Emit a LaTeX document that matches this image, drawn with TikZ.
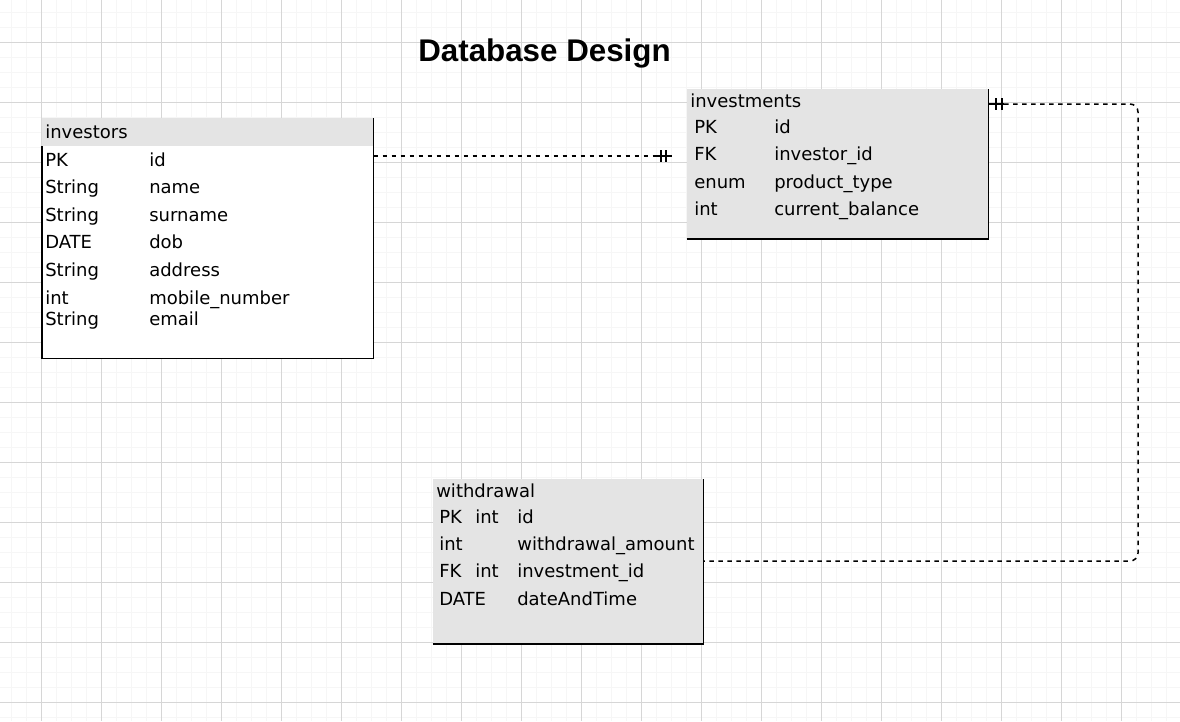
\documentclass[tikz,border=0pt]{standalone}
\usepackage{fontspec}
\newfontfamily\dv{DejaVu Sans}
\newfontfamily\ls{Liberation Sans}
\definecolor{minorgrid}{RGB}{246,246,246}
\definecolor{majorgrid}{RGB}{214,214,214}
\definecolor{hdrgray}{RGB}{228,228,228}
\begin{document}
\begin{tikzpicture}[x=0.75pt,y=-0.75pt,
  txt/.style={anchor=base west,inner sep=0pt,font=\dv\fontsize{13.5pt}{16pt}\selectfont},
  ttl/.style={anchor=base west,inner sep=0pt,font=\ls\bfseries\fontsize{23.5pt}{28pt}\selectfont},
  tbl/.style={anchor=north west,inner sep=0pt,draw=none},
  border/.style={line width=1.125pt,black},
  conn/.style={line width=1.125pt,black,dash pattern=on 3.375pt off 3.375pt},
  solidconn/.style={line width=1.125pt,black},
  bar/.style={line width=0.9pt,black}]
\useasboundingbox (0,0) rectangle (1180,721);
\fill[white] (0,0) rectangle (1180,721);
% grid
\foreach \x in {11.5,26.5,...,1180} \draw[minorgrid,line width=0.75pt] (\x,0) -- (\x,721);
\foreach \y in {12.3,27.3,...,721} \draw[minorgrid,line width=0.75pt] (0,\y) -- (1180,\y);
\foreach \x in {41.5,101.5,...,1180} \draw[majorgrid,line width=0.75pt] (\x,0) -- (\x,721);
\foreach \y in {42.3,102.3,...,721} \draw[majorgrid,line width=0.75pt] (0,\y) -- (1180,\y);

% title
\node[ttl] (title) at (418,61) {Database Design};

% investors table
\node[tbl,minimum width=248.25pt,minimum height=180pt,fill=white] (investors) at (42,118) {};
\fill[hdrgray] (42,118) rectangle (373,146);
\draw[border] (42,146) -- (investors.south west) -- (investors.south east) -- (investors.north east);
\node[txt] (invT) at (45,138) {investors};
\node[txt] (i1a) at (45,166) {PK};      \node[txt] (i1b) at (149,166) {id};
\node[txt] (i2a) at (45,193.5) {String}; \node[txt] (i2b) at (149,193.5) {name};
\node[txt] (i3a) at (45,221) {String};  \node[txt] (i3b) at (149,221) {surname};
\node[txt] (i4a) at (45,248) {DATE};    \node[txt] (i4b) at (149,248) {dob};
\node[txt] (i5a) at (45,276) {String};  \node[txt] (i5b) at (149,276) {address};
\node[txt] (i6a) at (45,304) {int};     \node[txt] (i6b) at (149,304) {mobile\_number};
\node[txt] (i7a) at (45,325) {String};  \node[txt] (i7b) at (149,325) {email};

% investments table
\node[tbl,minimum width=226.1pt,minimum height=112.5pt,fill=hdrgray] (investments) at (686.5,88.5) {};
\draw[border] (investments.south west) -- (investments.south east) -- (investments.north east);
\node[txt] (ivT) at (690,107.5) {investments};
\node[txt] (v1a) at (694,133.5) {PK};   \node[txt] (v1b) at (774,133.5) {id};
\node[txt] (v2a) at (694,160.5) {FK};   \node[txt] (v2b) at (774,160.5) {investor\_id};
\node[txt] (v3a) at (694,188.3) {enum}; \node[txt] (v3b) at (774,188.3) {product\_type};
\node[txt] (v4a) at (694,215) {int};    \node[txt] (v4b) at (774,215) {current\_balance};

% withdrawal table
\node[tbl,minimum width=202.9pt,minimum height=123.75pt,fill=hdrgray] (withdrawal) at (432.5,478.5) {};
\draw[border] (withdrawal.south west) -- (withdrawal.south east) -- (withdrawal.north east);
\node[txt] (wT) at (436,497.5) {withdrawal};
\node[txt] (w1a) at (439,523.5) {PK}; \node[txt] (w1b) at (475,523.5) {int}; \node[txt] (w1c) at (517,523.5) {id};
\node[txt] (w2a) at (439,550.5) {int}; \node[txt] (w2c) at (517,550.5) {withdrawal\_amount};
\node[txt] (w3a) at (439,577.5) {FK}; \node[txt] (w3b) at (475,577.5) {int}; \node[txt] (w3c) at (517,577.5) {investment\_id};
\node[txt] (w4a) at (439,605) {DATE}; \node[txt] (w4c) at (517,605) {dateAndTime};

% connector investors -> investments
\coordinate (c1s) at (investors.east |- 0,156);
\coordinate (c1m) at (657,156);
\coordinate (c1e) at (672,156);
\draw[conn] (c1s) -- (c1m);
\draw[solidconn] (c1m) -- (c1e);
\draw[bar] (661,150) -- (661,162);
\draw[bar] (666,150) -- (666,162);

% connector investments -> withdrawal
\coordinate (c2s) at (investments.east |- 0,104);
\coordinate (c2m) at (1004,104);
\coordinate (c2e) at (withdrawal.east |- 0,561);
\draw[solidconn] (c2s) -- (c2m);
\draw[bar] (996,98) -- (996,110);
\draw[bar] (1002,98) -- (1002,110);
\draw[conn,rounded corners=6pt] (c2m) -- (1138,104) -- (1138,561) -- (c2e);
\end{tikzpicture}
\end{document}
